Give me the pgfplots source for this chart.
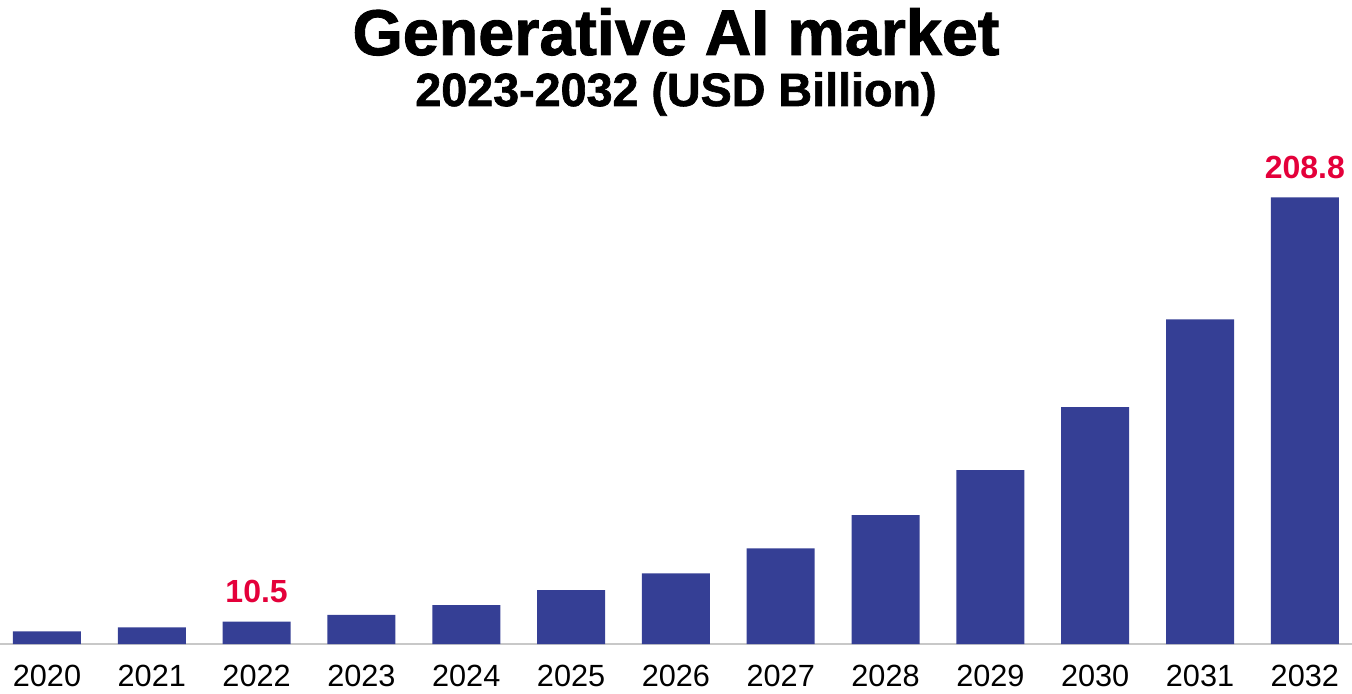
\documentclass[border=0pt]{standalone}
\usepackage{fontspec}
\setmainfont{Liberation Sans}
\newfontfamily\titlefont[FakeBold=1.4]{Liberation Sans Bold}
\usepackage{pgfplots}
\pgfplotsset{compat=1.18}
\definecolor{barblue}{HTML}{353F95}
\definecolor{valred}{HTML}{E4003A}
\definecolor{axisgray}{HTML}{C8C8C8}
% 1px of the reference = 0.75pt
\begin{document}
\begin{tikzpicture}
\begin{axis}[
    at={(0,0)}, anchor=south west,
    scale only axis,
    width=1014pt, height=352.9pt,
    xmin=-0.448, xmax=12.45,
    ymin=0, ymax=220,
    ybar, bar width=51pt,
    axis x line*=bottom, axis y line=none,
    x axis line style={draw=axisgray, line width=1.5pt, -},
    xtick={0,...,12},
    xticklabels={2020,2021,2022,2023,2024,2025,2026,2027,2028,2029,2030,2031,2032},
    major tick length=0pt,
    xticklabel style={font=\fontsize{23pt}{23pt}\selectfont, anchor=base, inner sep=0pt, yshift=-32.2pt},
    clip=false,
    point meta=explicit symbolic,
    nodes near coords={\pgfplotspointmeta},
    every node near coord/.append style={font=\fontsize{24pt}{24pt}\selectfont\bfseries,
        text=valred, anchor=base, inner sep=0pt, yshift=14.25pt},
    ]
\addplot[fill=barblue, draw=none] coordinates {
    (0,5.9)[] (1,7.8)[] (2,10.5)[10.5] (3,13.6)[] (4,18.2)[] (5,25.2)[]
    (6,33.0)[] (7,44.7)[] (8,60.3)[] (9,81.3)[] (10,110.7)[] (11,151.8)[]
    (12,208.8)[208.8]};
\end{axis}
\node[anchor=base, inner sep=0pt, font=\fontsize{48.5pt}{48.5pt}\titlefont] at (507pt,441.75pt) {Generative AI market};
\node[anchor=base, inner sep=0pt, font=\fontsize{35pt}{35pt}\titlefont] at (507pt,403.5pt) {2023-2032 (USD Billion)};
\pgfresetboundingbox
\useasboundingbox (0,-36.75pt) rectangle (1014pt,483pt);
\end{tikzpicture}
\end{document}
